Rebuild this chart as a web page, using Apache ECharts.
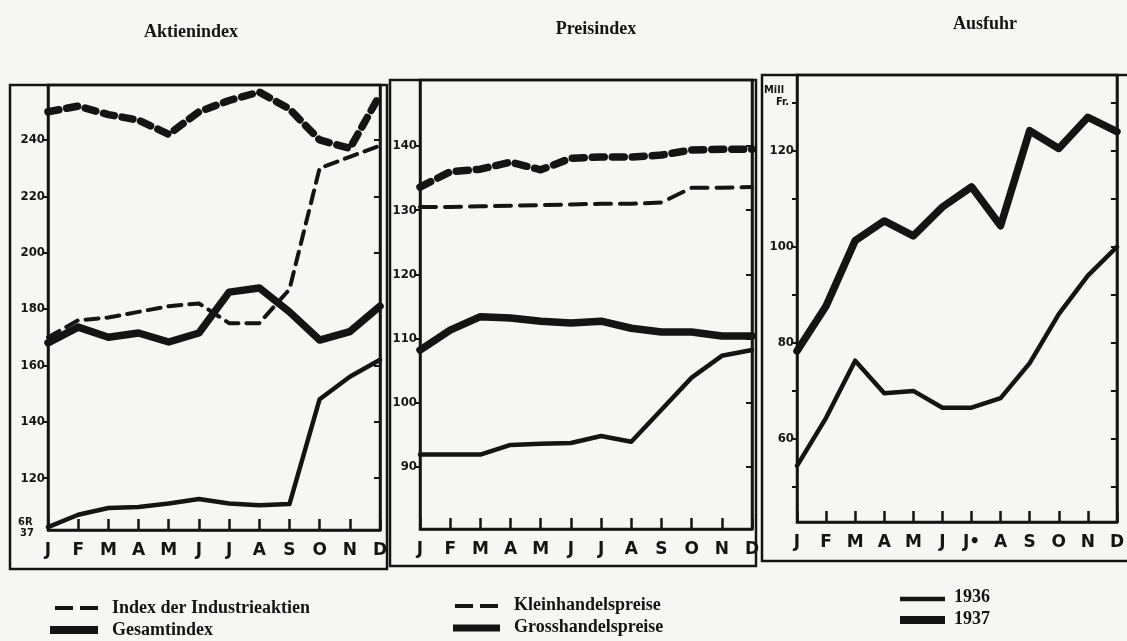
<!DOCTYPE html>
<html>
<head>
<meta charset="utf-8">
<script src="https://cdn.jsdelivr.net/npm/echarts@6/dist/echarts.min.js"></script>
<style>
  html, body { margin: 0; padding: 0; background: #f6f6f4; }
  #chart { width: 1127px; height: 641px; }
</style>
</head>
<body>
<div id="chart"></div>
<script>
// Monate (Achsenbeschriftung)
var months = ['J', 'F', 'M', 'A', 'M', 'J', 'J', 'A', 'S', 'O', 'N', 'D'];
var monthsAusfuhr = ['J', 'F', 'M', 'A', 'M', 'J', 'J•', 'A', 'S', 'O', 'N', 'D'];

// Aktienindex
var industrie1936 = [170, 176, 177, 179, 181, 182, 175, 175, 187, 230, 234, 238];
var industrie1937 = [250, 252, 249, 247, 242, 250, 254, 257, 251, 240, 237, 256];
var gesamt1936 = [102.6, 107, 109.4, 109.8, 111, 112.6, 111, 110.4, 110.8, 148, 156, 162];
var gesamt1937 = [168, 173.6, 170, 171.5, 168.3, 171.5, 186, 187.5, 179, 169, 172, 181];
var aktienTicks = [120, 140, 160, 180, 200, 220, 240];

// Preisindex
var klein1936 = [130.5, 130.5, 130.6, 130.7, 130.8, 130.9, 131, 131, 131.2, 133.5, 133.5, 133.6];
var klein1937 = [133.6, 136, 136.4, 137.5, 136.3, 138.1, 138.3, 138.3, 138.6, 139.4, 139.5, 139.5];
var gross1936 = [91.9, 91.9, 91.9, 93.4, 93.6, 93.7, 94.8, 93.9, 98.9, 103.9, 107.3, 108.2];
var gross1937 = [108.2, 111.3, 113.4, 113.2, 112.7, 112.4, 112.7, 111.6, 111, 111, 110.4, 110.4];
var preisTicks = [90, 100, 110, 120, 130, 140];

// Ausfuhr (Mill. Fr.)
var ausfuhr1936 = [54.4, 64.4, 76.3, 69.5, 70, 66.5, 66.5, 68.5, 75.8, 86, 94, 100];
var ausfuhr1937 = [78.3, 87.7, 101.3, 105.4, 102.3, 108.3, 112.5, 104.4, 124.2, 120.5, 127, 124];
var ausfuhrTicks = [50, 60, 70, 80, 90, 100, 110, 120, 130];
var ausfuhrLabels = [60, 80, 100, 120];

var ink = '#141414';
var chart = echarts.init(document.getElementById('chart'));

function xAxisFor(idx, labels) {
  return {
    type: 'category', gridIndex: idx, data: labels, boundaryGap: false,
    axisLine: { lineStyle: { color: ink, width: 2.5 } },
    axisTick: { inside: true, length: 11, lineStyle: { color: ink, width: 2.5 } },
    axisLabel: { color: ink, fontFamily: 'DejaVu Sans', fontWeight: 'bold', fontSize: 17, margin: 12, interval: 0 },
    splitLine: { show: false }
  };
}

function yAxisFor(idx, min, max, ticks, labels, right) {
  return {
    type: 'value', gridIndex: idx, min: min, max: max, position: right ? 'right' : 'left',
    axisLine: { show: true, lineStyle: { color: ink, width: 2.5 } },
    axisTick: { show: true, inside: !!right, length: right ? 6 : 5, customValues: ticks, lineStyle: { color: ink, width: 2 } },
    axisLabel: right ? { show: false } : {
      customValues: labels, color: ink, fontFamily: 'DejaVu Sans Condensed', fontWeight: 'bold',
      fontSize: 13, margin: 3
    },
    splitLine: { show: false }
  };
}

function line(name, xi, yi, data, width, dashed) {
  return {
    name: name, type: 'line', xAxisIndex: xi, yAxisIndex: yi, data: data,
    symbol: 'none', silent: true,
    lineStyle: { color: ink, width: width, type: dashed ? dashed : 'solid', cap: 'round', join: 'round' }
  };
}

function box(x, y, w, h) {
  return { type: 'rect', shape: { x: x, y: y, width: w, height: h }, style: { fill: null, stroke: ink, lineWidth: 2.5 }, silent: true };
}
function txt(x, y, s, size, font, align) {
  return { type: 'text', x: x, y: y, style: { text: s, fill: ink, font: 'bold ' + size + 'px ' + font, textAlign: align || 'left', textVerticalAlign: 'middle' }, silent: true };
}
function seg(x1, y1, x2, y2, w) {
  return { type: 'line', shape: { x1: x1, y1: y1, x2: x2, y2: y2 }, style: { stroke: ink, lineWidth: w }, silent: true };
}

var serif = '"Liberation Serif"';

var option = {
  backgroundColor: '#f6f6f4',
  animation: false,
  grid: [
    { left: 48, top: 85, width: 332, height: 445, show: true, borderColor: ink, borderWidth: 2.5 },
    { left: 420, top: 80, width: 332, height: 449, show: true, borderColor: ink, borderWidth: 2.5 },
    { left: 797, top: 75, width: 328, height: 447, show: true, borderColor: ink, borderWidth: 2.5 }
  ],
  xAxis: [xAxisFor(0, months), xAxisFor(1, months), xAxisFor(2, monthsAusfuhr)],
  yAxis: [
    yAxisFor(0, 101.6, 259.5, aktienTicks, aktienTicks, false),
    yAxisFor(0, 101.6, 259.5, aktienTicks, aktienTicks, true),
    yAxisFor(1, 80.3, 150.3, preisTicks, preisTicks, false),
    yAxisFor(1, 80.3, 150.3, preisTicks, preisTicks, true),
    yAxisFor(2, 42.7, 135.8, ausfuhrTicks, ausfuhrLabels, false),
    yAxisFor(2, 42.7, 135.8, ausfuhrTicks, ausfuhrLabels, true)
  ],
  series: [
    line('Index der Industrieaktien 1936', 0, 0, industrie1936, 4, [13, 8]),
    line('Index der Industrieaktien 1937', 0, 0, industrie1937, 7.5, [11, 8]),
    line('Gesamtindex 1936', 0, 0, gesamt1936, 4.5),
    line('Gesamtindex 1937', 0, 0, gesamt1937, 7.5),
    line('Kleinhandelspreise 1936', 1, 2, klein1936, 4, [16, 9]),
    line('Kleinhandelspreise 1937', 1, 2, klein1937, 7.5, [12, 8]),
    line('Grosshandelspreise 1936', 1, 2, gross1936, 4.5),
    line('Grosshandelspreise 1937', 1, 2, gross1937, 7.5),
    line('Ausfuhr 1936', 2, 4, ausfuhr1936, 4.5),
    line('Ausfuhr 1937', 2, 4, ausfuhr1937, 7.5)
  ],
  graphic: [
    box(10, 85, 377, 484),
    box(390, 80, 366, 486),
    box(762, 75, 372, 486),
    txt(191, 32, 'Aktienindex', 18, serif, 'center'),
    txt(596, 29, 'Preisindex', 18, serif, 'center'),
    txt(985, 24, 'Ausfuhr', 18, serif, 'center'),
    txt(18, 522, '6R', 11, '"DejaVu Sans Condensed"'),
    txt(20, 533, '37', 11, '"DejaVu Sans Condensed"'),
    txt(764, 90, 'Mill', 11, '"DejaVu Sans Condensed"'),
    txt(776, 102, 'Fr.', 11, '"DejaVu Sans Condensed"'),
    // Legende
    seg(55, 608, 73, 608, 4), seg(80, 608, 98, 608, 4),
    txt(112, 608, 'Index der Industrieaktien', 18, serif),
    seg(50, 630, 98, 630, 8),
    txt(112, 630, 'Gesamtindex', 18, serif),
    seg(455, 606, 473, 606, 4), seg(480, 606, 498, 606, 4),
    txt(514, 605, 'Kleinhandelspreise', 18, serif),
    seg(453, 628, 500, 628, 7),
    txt(514, 627, 'Grosshandelspreise', 18, serif),
    seg(900, 599, 945, 599, 4.5),
    txt(954, 597, '1936', 18, serif),
    seg(900, 620, 945, 620, 8),
    txt(954, 619, '1937', 18, serif)
  ]
};

chart.setOption(option);
</script>
</body>
</html>
